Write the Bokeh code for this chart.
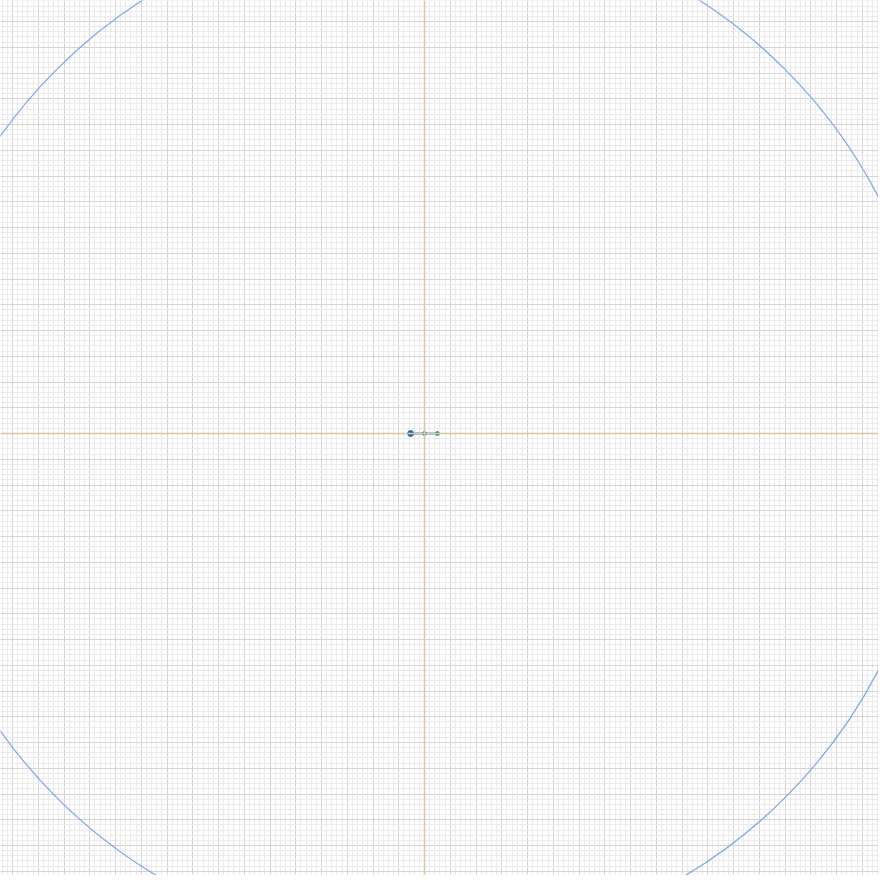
from bokeh.plotting import figure
from bokeh.models import Grid, SingleIntervalTicker, Span, Range1d
from bokeh.embed import file_html
from bokeh.resources import INLINE

# data
circle_x = [-0.007]
circle_y = [0.0]
circle_r = [1.0]
pts_x = [-0.027, 0.0, 0.025]
pts_y = [0.0, 0.0, 0.0]

W, H = 878, 875
scale = 515.0
cx_px, cy_px = 432 - 8, 441 - 8
x0 = -cx_px / scale
x1 = (W - cx_px) / scale
y1 = cy_px / scale
y0 = -(H - cy_px) / scale

p = figure(width=W, height=H, output_backend="svg", toolbar_location=None,
           x_axis_type=None, y_axis_type=None,
           x_range=Range1d(x0, x1), y_range=Range1d(y0, y1),
           min_border=0, outline_line_color=None)

tick = SingleIntervalTicker(interval=0.05, num_minor_ticks=5)
for dim in (0, 1):
    g = Grid(dimension=dim, ticker=tick,
             grid_line_color="#d4d4d4", grid_line_width=1,
             minor_grid_line_color="#ebebeb", minor_grid_line_width=1)
    p.add_layout(g)

p.add_layout(Span(location=0, dimension="height", line_color="#dcc79c", line_width=1.5))
p.add_layout(Span(location=0, dimension="width", line_color="#dcc79c", line_width=1.5))

p.circle(x=circle_x, y=circle_y, radius=circle_r, fill_color=None,
         line_color="#7aa6ee", line_width=1.2)

p.line(x=pts_x, y=pts_y, line_color="#a7c6f7", line_width=3)
p.scatter(x=pts_x[:1], y=pts_y[:1], size=6, fill_color="#1f6fc0", line_color="#1f6fc0")
p.scatter(x=pts_x[1:], y=pts_y[1:], size=4, fill_color="#2a9a8a", line_color="#2a9a8a")

open("out.html", "w").write(file_html(p, INLINE))
